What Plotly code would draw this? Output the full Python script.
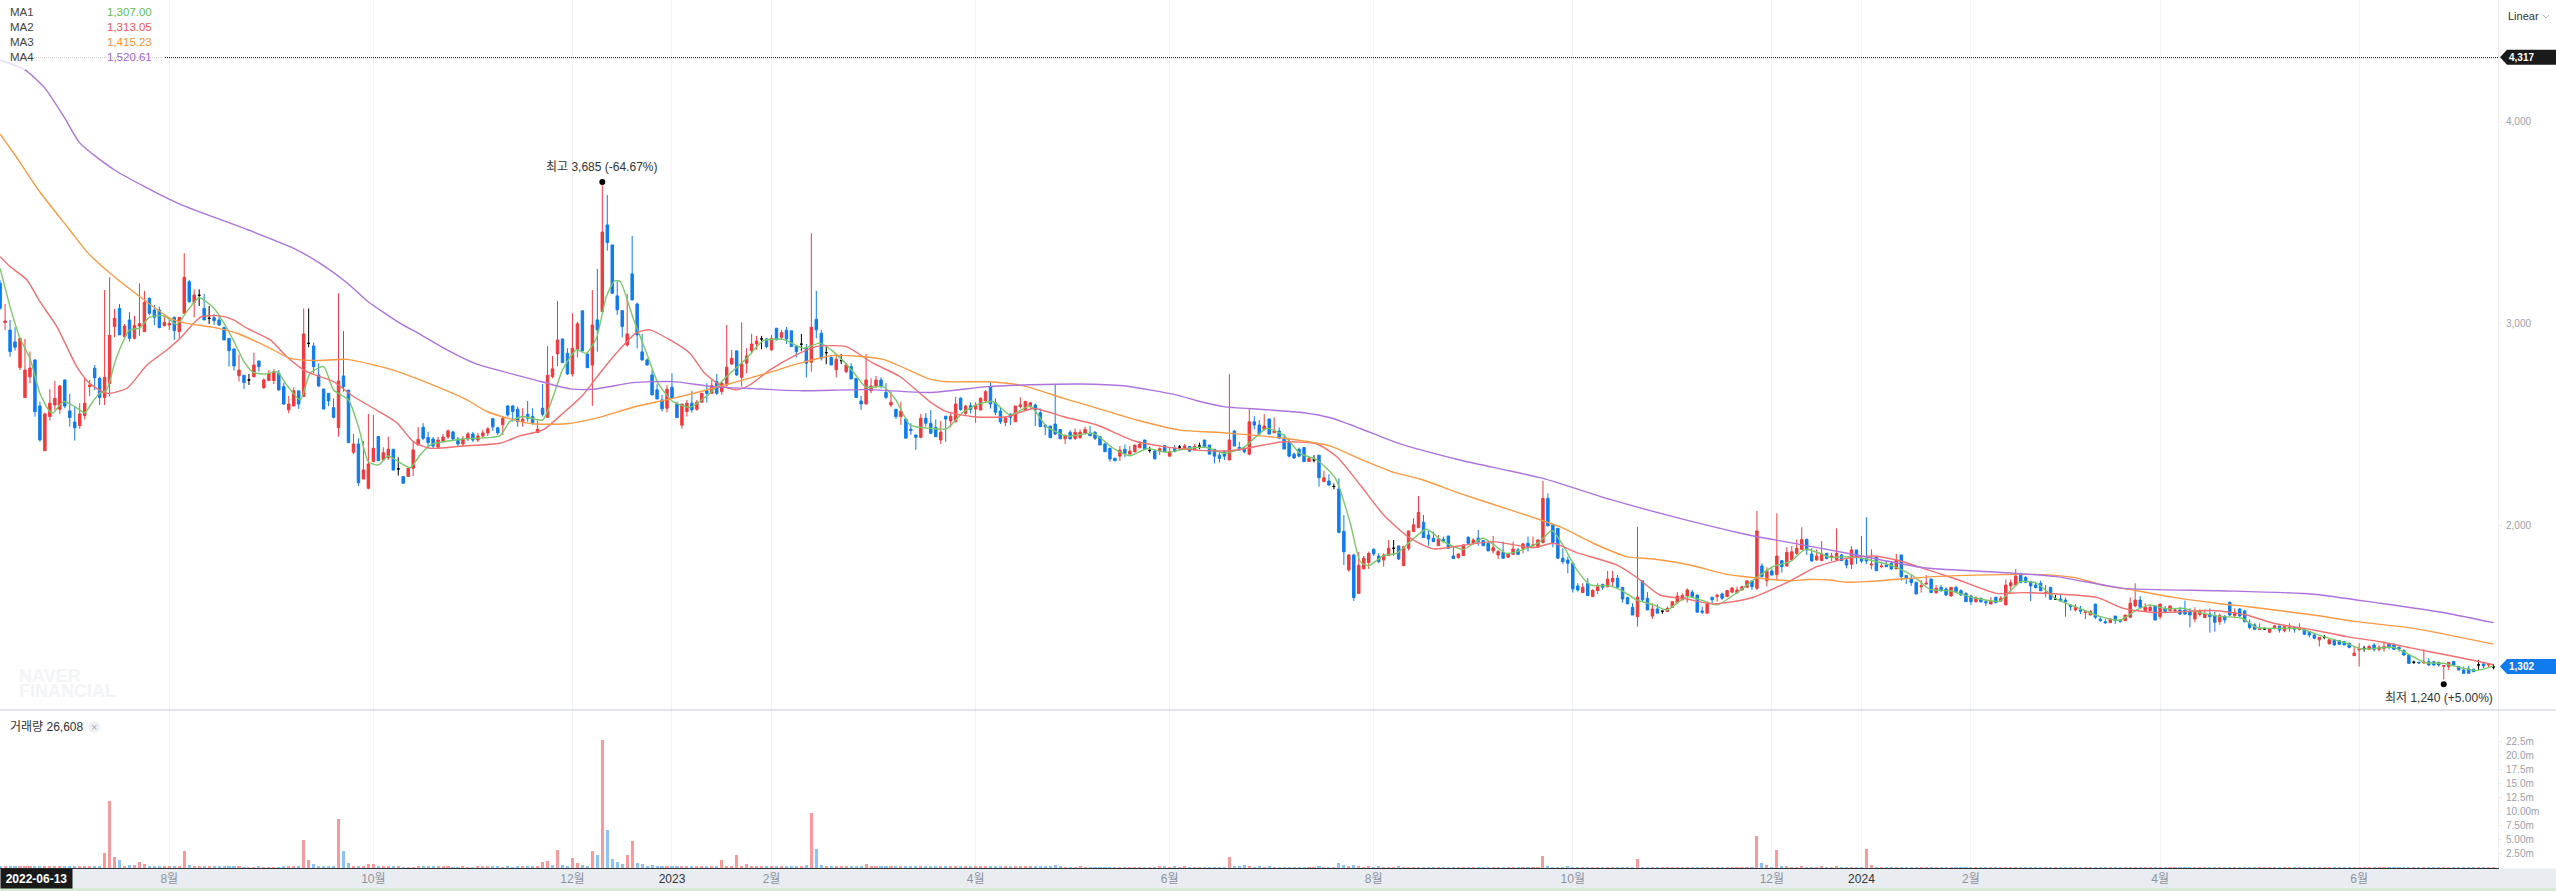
from plotly.subplots import make_subplots
import plotly.graph_objects as go

W, H = 2556, 891
FONT = "Liberation Sans, Noto Sans CJK KR, sans-serif"

# R up, B down, D unchanged
moves = (
    "BRBBRRRBBR" "RRRBBBRRRB" "BRRRBRBRRR" "BBBRRBRRBR" "DBDBBBBBRB" "DRBRRRBBRR" "BRDBBBBBRB" "BRBRRRBRRB"
    "DBRRRBBBRR" "RBBRRBRRRB" "BRBBBRBBRB" "RRRBBRRBBR" "BRBBBBRBBB" "BBBBRBBRRB" "RRBRBRRRBR" "RRRDBRBRBB"
    "BDBRBBDBRD" "RBBBRRRBBR" "BRBBBRBBBR" "BRRBRBRRRB" "BBRBRRRRBB" "BBBBRBRRRB" "BBBBBRBRRR" "BDBRBRBDRB"
    "RDBBBBBRBB" "BRBBRBRBBB" "BBBRDBRBDB" "BRBRRRBBRR" "DBRRRRBBBR" "BBBRRBRBBB" "RRBRRBRBRR" "RBBBBBBBRB"
    "RRBRRBBBBR" "BBRBDRRRRR" "BBBRBRBRRR" "RRBRBRBRBR" "RRRBBRRBRR" "BBRBBBRBRB" "BRBBBBRRBR" "BBRBBBBRBB"
    "RBRRRRBBBB" "BRBDBBBRBR" "RBBBRBBRRR" "BRRBRBRRBB" "BRRRBBRBBR" "BBBBRDRRBR" "RBRBBBRDRB" "BBBRRDRBRR"
    "BBBBBDBRBB" "BRRBBBBBDBRD"
)
body_top = [
    3200,3014,2969,2910,2928,2771,2781,2821,2593,2554, 2607,2631,2692,2722,2569,2514,2554,2607,2697,2780,
    2730,2735,2943,3027,3076,2989,3019,2992,3001,3106, 3126,3068,3068,3007,3002,3032,3032,3230,3208,3142,
    3141,3076,3027,3030,3019,2981,2928,2875,2771,2745, 2722,2796,2816,2722,2755,2763,2755,2689,2603,2668,
    2668,2950,2903,2890,2747,2677,2656,2585,2717,2742, 2672,2405,2405,2277,2306,2384,2442,2362,2379,2379,
    2282,2244,2285,2376,2428,2488,2438,2430,2425,2440, 2470,2465,2430,2430,2455,2455,2445,2460,2480,2530,
    2485,2533,2593,2593,2577,2528,2552,2541,2478,2582, 2745,2777,2920,2925,2854,2879,3000,3064,2851,2994,
    3019,3454,3489,3390,3138,3065,2950,3247,3098,2861, 2821,2747,2673,2623,2676,2686,2603,2603,2607,2607,
    2612,2656,2669,2694,2714,2706,2785,2829,2866,2801, 2841,2900,2915,2925,2925,2928,2978,2956,2968,2965,
    2890,2899,2879,2983,3022,2953,2857,2833,2824,2818, 2796,2788,2730,2618,2722,2692,2722,2722,2661,2612,
    2577,2567,2529,2478,2450,2533,2533,2507,2487,2464, 2543,2543,2603,2632,2593,2595,2598,2631,2664,2689,
    2609,2568,2535,2553,2593,2599,2616,2609,2598,2560, 2499,2494,2504,2477,2449,2463,2463,2463,2477,2458,
    2463,2441,2405,2383,2334,2375,2379,2370,2400,2405, 2425,2374,2370,2382,2397,2367,2383,2390,2395,2393,
    2393,2395,2425,2400,2379,2350,2367,2425,2469,2388, 2383,2515,2515,2499,2494,2529,2469,2469,2433,2413,
    2355,2379,2388,2334,2326,2350,2238,2222,2195,2182, 1973,1856,1856,1805,1840,1864,1884,1851,1856,1889,
    1889,1901,1897,1975,2005,2067,2018,1955,1939,1934, 1934,1950,1851,1861,1906,1944,1930,1939,1927,1914,
    1892,1873,1868,1861,1886,1881,1911,1914,1906,1930, 2136,2136,2005,1988,1840,1831,1815,1703,1696,1716,
    1681,1699,1711,1736,1741,1741,1696,1645,1597,1647, 1728,1642,1589,1589,1578,1592,1625,1653,1655,1683,
    1672,1658,1579,1614,1647,1657,1663,1680,1693,1683, 1699,1728,1728,1975,1802,1777,1777,1851,1828,1869,
    1872,1889,1933,1933,1861,1851,1861,1864,1851,1864, 1856,1831,1881,1881,1839,1838,1811,1848,1801,1806,
    1815,1831,1856,1755,1740,1721,1704,1716,1737,1691, 1696,1688,1696,1696,1679,1666,1653,1645,1642,1625,
    1628,1647,1642,1707,1719,1752,1765,1745,1724,1707, 1716,1670,1696,1637,1638,1633,1609,1597,1584,1576,
    1576,1613,1538,1526,1538,1554,1531,1559,1617,1633, 1633,1597,1597,1604,1613,1590,1604,1584,1584,1584,
    1576,1571,1576,1564,1564,1554,1556,1551,1622,1572, 1589,1579,1518,1510,1490,1490,1490,1505,1505,1502,
    1497,1497,1490,1488,1477,1460,1449,1449,1436,1436, 1432,1427,1419,1370,1389,1394,1403,1411,1399,1403,
    1416,1411,1399,1383,1361,1325,1325,1327,1328,1328, 1325,1309,1325,1328,1304,1287,1292,1290,1312,1317,1317,1302,
]
body_bot = [
    3077,3006,2862,2884,2783,2635,2738,2565,2425,2372, 2541,2598,2577,2593,2536,2486,2496,2546,2689,2733,
    2635,2635,2705,2986,2945,2936,2928,2928,2989,2961, 3052,3032,2981,2991,2994,2966,2961,3052,3109,3105,
    3141,3019,3027,3015,2994,2920,2867,2791,2743,2709, 2722,2738,2788,2684,2719,2719,2672,2603,2574,2593,
    2603,2640,2903,2788,2692,2578,2618,2537,2486,2689, 2412,2364,2214,2232,2186,2318,2323,2326,2338,2277,
    2282,2211,2244,2285,2400,2433,2412,2395,2390,2420, 2440,2430,2405,2405,2430,2425,2425,2445,2460,2490,
    2460,2500,2549,2566,2516,2516,2533,2511,2462,2552, 2537,2739,2851,2808,2752,2752,2874,2866,2783,2796,
    2970,3060,3402,3151,3069,2986,2895,3118,2945,2821, 2796,2648,2628,2579,2582,2631,2536,2498,2566,2574,
    2577,2612,2656,2656,2656,2664,2697,2801,2747,2735, 2805,2866,2900,2925,2887,2871,2920,2933,2925,2887,
    2862,2899,2805,2810,2970,2829,2857,2796,2772,2818, 2763,2727,2635,2603,2603,2669,2692,2689,2636,2598,
    2541,2541,2434,2472,2438,2438,2508,2458,2441,2425, 2529,2519,2515,2576,2557,2576,2578,2573,2619,2603,
    2562,2515,2512,2537,2515,2590,2573,2593,2573,2491, 2491,2436,2454,2431,2431,2430,2433,2438,2458,2446,
    2433,2400,2367,2331,2322,2345,2359,2355,2367,2387, 2379,2374,2331,2370,2367,2345,2367,2390,2383,2370,
    2375,2395,2392,2355,2345,2334,2345,2326,2395,2375, 2367,2355,2499,2454,2477,2454,2461,2433,2380,2345,
    2336,2345,2318,2318,2326,2238,2219,2202,2195,1968, 1872,1782,1645,1666,1787,1818,1861,1823,1831,1853,
    1889,1836,1803,1889,1972,1991,1942,1935,1922,1902, 1922,1889,1838,1843,1853,1914,1914,1922,1902,1876,
    1876,1856,1840,1845,1859,1859,1889,1897,1901,1894, 1917,2001,1917,1840,1823,1815,1688,1683,1670,1655,
    1650,1680,1696,1699,1724,1696,1638,1614,1559,1551, 1634,1584,1554,1568,1578,1576,1597,1620,1634,1653,
    1650,1573,1573,1568,1634,1650,1642,1650,1672,1670, 1683,1696,1699,1691,1749,1729,1757,1760,1798,1802,
    1831,1864,1884,1881,1826,1831,1828,1839,1844,1834, 1828,1806,1810,1843,1826,1826,1806,1778,1798,1798,
    1787,1787,1749,1740,1719,1663,1699,1712,1670,1670, 1679,1658,1653,1674,1658,1625,1625,1625,1625,1620,
    1613,1620,1628,1609,1703,1707,1721,1721,1703,1694, 1679,1666,1637,1637,1628,1625,1600,1584,1579,1571,
    1559,1548,1531,1521,1521,1531,1528,1531,1548,1604, 1597,1581,1581,1534,1551,1576,1581,1581,1564,1564,
    1559,1539,1562,1546,1551,1523,1526,1535,1559,1556, 1554,1526,1497,1488,1488,1490,1474,1493,1485,1482,
    1493,1488,1488,1464,1460,1444,1436,1449,1416,1411, 1414,1411,1399,1358,1386,1394,1389,1389,1389,1394,
    1399,1389,1391,1361,1320,1325,1322,1322,1312,1312, 1312,1305,1304,1312,1287,1271,1271,1279,1312,1307,1312,1302,
]
high = [
    3215,3098,3019,2982,2928,2925,2862,2824,2615,2560, 2677,2717,2697,2725,2653,2590,2607,2730,2722,2796,
    2738,3167,3230,3073,3098,2999,3057,3039,3200,3162, 3129,3093,3085,3039,3027,3035,3032,3349,3217,3170,
    3170,3147,3088,3048,3035,2986,2928,2879,2846,2745, 2752,2857,2816,2730,2771,2775,2771,2709,2643,2686,
    2668,3076,3076,2907,2804,2677,2656,2631,3151,2964, 2672,2455,2433,2420,2554,2549,2445,2389,2442,2379,
    2339,2244,2285,2417,2488,2508,2466,2440,2440,2455, 2478,2470,2440,2445,2465,2465,2460,2475,2489,2535,
    2490,2541,2598,2598,2590,2582,2618,2582,2521,2702, 2890,2841,3113,2925,2879,3052,3009,3064,2851,3167,
    3271,3685,3637,3390,3209,3068,3148,3435,3105,2950, 2829,2772,2701,2648,2697,2755,2615,2603,2623,2668,
    2623,2656,2706,2722,2752,2714,2994,2871,2866,3007, 2879,2950,2940,2940,2928,2945,2978,2970,2984,2965,
    2890,2950,2900,3448,3163,2970,2887,2838,2851,2851, 2805,2805,2730,2643,2851,2730,2742,2735,2706,2664,
    2577,2615,2529,2508,2450,2554,2558,2573,2527,2519, 2543,2560,2639,2636,2598,2611,2611,2636,2672,2713,
    2631,2585,2540,2557,2593,2636,2616,2614,2606,2581, 2504,2494,2697,2477,2449,2474,2482,2477,2491,2494,
    2469,2446,2412,2388,2339,2395,2403,2395,2400,2420, 2425,2392,2375,2388,2400,2388,2400,2400,2405,2393,
    2405,2412,2425,2400,2379,2367,2375,2751,2474,2416, 2392,2581,2543,2524,2553,2529,2537,2487,2453,2433,
    2362,2388,2388,2345,2350,2350,2273,2255,2210,2235, 2054,1861,1861,1871,1851,1873,1889,1864,1864,1930,
    1930,1901,1901,1975,2038,2148,2054,1975,1972,1955, 1947,1950,1894,1864,1906,1947,1939,1980,1930,1917,
    1950,1881,1922,1861,1922,1892,1914,1947,1947,1935, 2222,2161,2005,1988,1889,1848,1818,1716,1716,1741,
    1686,1716,1713,1777,1777,1757,1696,1650,1617,1996, 1728,1672,1617,1612,1578,1601,1625,1672,1666,1691,
    1683,1658,1601,1625,1647,1663,1670,1683,1696,1699, 1703,1728,1732,2074,1815,1795,1790,2062,1828,1894,
    1900,1933,1993,1938,1889,1884,1925,1867,1867,1988, 1861,1839,1900,1881,1950,2042,1884,1851,1823,1828,
    1823,1861,1856,1755,1757,1721,1732,1757,1737,1707, 1707,1696,1696,1703,1686,1671,1658,1650,1645,1633,
    1647,1650,1653,1735,1735,1787,1768,1752,1729,1724, 1729,1707,1696,1658,1658,1645,1613,1613,1604,1579,
    1584,1613,1548,1538,1543,1554,1538,1559,1646,1716, 1653,1617,1613,1604,1613,1604,1604,1592,1600,1630,
    1592,1597,1587,1587,1592,1576,1567,1559,1625,1592, 1592,1584,1538,1518,1518,1498,1493,1510,1505,1505,
    1518,1498,1518,1493,1480,1464,1449,1460,1439,1439, 1436,1431,1422,1403,1419,1406,1411,1419,1411,1427,
    1419,1419,1403,1389,1361,1333,1328,1389,1345,1333, 1328,1309,1325,1333,1307,1304,1307,1295,1337,1320,1317,1317,
]
low = [
    3070,2969,2837,2867,2771,2635,2705,2540,2417,2372, 2521,2574,2554,2582,2491,2422,2480,2527,2643,2672,
    2598,2598,2640,2933,2945,2933,2912,2923,2940,2961, 3043,2994,2978,2986,2969,2920,2928,3052,3105,3032,
    3088,3019,2999,2994,2989,2920,2788,2768,2714,2677, 2697,2735,2763,2676,2717,2702,2672,2598,2557,2593,
    2579,2640,2884,2755,2689,2578,2593,2532,2442,2664, 2412,2356,2198,2232,2181,2318,2323,2326,2326,2273,
    2249,2207,2244,2247,2400,2425,2384,2385,2380,2410, 2430,2420,2395,2395,2420,2415,2415,2435,2445,2470,
    2450,2450,2541,2516,2491,2491,2516,2500,2462,2541, 2537,2730,2791,2805,2747,2739,2834,2862,2783,2594,
    2862,3060,3362,3148,3044,2933,2887,3118,2879,2818, 2792,2648,2628,2566,2561,2631,2533,2481,2541,2561,
    2570,2612,2610,2656,2648,2648,2689,2796,2742,2689, 2755,2851,2871,2874,2879,2866,2920,2920,2900,2887,
    2834,2866,2734,2763,2928,2818,2800,2796,2734,2801, 2755,2727,2635,2574,2603,2656,2681,2681,2628,2587,
    2529,2500,2434,2450,2376,2434,2491,2458,2441,2405, 2416,2487,2515,2570,2548,2557,2510,2573,2614,2581,
    2548,2504,2494,2499,2515,2581,2573,2581,2494,2491, 2449,2436,2449,2431,2405,2430,2425,2430,2454,2446,
    2425,2400,2367,2318,2322,2322,2339,2355,2362,2383, 2375,2362,2331,2350,2367,2345,2367,2375,2379,2365,
    2375,2380,2392,2355,2309,2313,2326,2326,2395,2375, 2359,2350,2477,2454,2474,2454,2461,2433,2380,2339,
    2331,2339,2318,2318,2314,2194,2219,2197,2181,1963, 1806,1773,1628,1666,1787,1787,1851,1815,1798,1853,
    1853,1831,1803,1878,1972,1991,1942,1902,1922,1901, 1919,1886,1838,1838,1853,1906,1909,1902,1902,1876,
    1864,1836,1836,1840,1856,1856,1864,1873,1901,1894, 1914,1996,1894,1836,1812,1765,1670,1675,1670,1655,
    1650,1663,1683,1696,1699,1696,1620,1614,1559,1502, 1625,1584,1540,1568,1565,1576,1597,1620,1634,1620,
    1650,1573,1564,1568,1617,1625,1634,1647,1666,1663, 1683,1696,1683,1683,1746,1700,1754,1732,1769,1798,
    1831,1856,1884,1856,1823,1828,1828,1834,1826,1826, 1826,1790,1787,1811,1815,1811,1785,1778,1790,1798,
    1782,1787,1729,1712,1703,1663,1670,1712,1670,1663, 1674,1653,1650,1670,1653,1625,1609,1620,1620,1604,
    1613,1620,1625,1609,1663,1703,1716,1716,1628,1691, 1679,1646,1633,1633,1628,1551,1581,1576,1564,1539,
    1559,1539,1526,1515,1521,1515,1521,1531,1543,1597, 1597,1581,1576,1534,1538,1567,1576,1567,1559,1559,
    1498,1523,1551,1546,1472,1477,1510,1518,1554,1543, 1551,1523,1488,1485,1485,1485,1469,1488,1472,1474,
    1477,1472,1482,1460,1449,1439,1403,1439,1414,1406, 1411,1411,1394,1358,1304,1378,1386,1378,1378,1378,
    1389,1389,1378,1358,1317,1317,1317,1317,1307,1307, 1304,1240,1287,1307,1287,1267,1271,1276,1287,1295,1300,1290,
]
# volume in millions
volume = [
    .2,.2,.2,.2,.2,.42,.2,.2,.2,.2, .2,.2,.2,.2,.2,.2,.2,.2,.2,.2,
    .2,2.68,11.96,1.96,1.43,.42,.54,.54,1.07,.71, .42,.2,.2,.2,.2,.2,.42,3.04,.54,.36,
    .2,.2,.2,.2,.2,.2,.2,.2,.2,.15, .15,.15,.2,.15,.15,.1,.1,.2,.2,.2,
    .2,5.0,1.43,.65,.42,.42,.2,.2,8.75,3.04, .89,.2,.36,.2,.71,.71,.2,.2,.2,.2,
    .2,.15,.15,.1,.2,.2,.2,.2,.2,.2, .2,.15,.15,.2,.15,.15,.2,.2,.2,.2,
    .2,.15,.2,.15,.3,.2,.2,.2,.2,1.07, 1.25,.6,3.2,.54,.42,1.79,.89,.54,.25,3.04,
    2.32,22.9,6.79,1.6,1.07,.77,2.32,4.82,.89,.77, .42,.54,.42,.42,.2,.2,.42,.2,.2,.2,
    .2,.2,.2,.2,.2,1.43,.42,.2,2.32,.25, .71,.42,.42,.2,.2,.42,.2,.2,.2,.42,
    .42,.42,.6,9.82,3.39,.6,.42,.42,.2,.2, .2,.2,.42,.2,.71,.2,.2,.2,.2,.2,
    .2,.2,.2,.2,.2,.2,.2,.2,.2,.2, .2,.2,.2,.2,.2,.2,.2,.2,.2,.2,
    .2,.2,.42,.2,.2,.2,.2,.2,.42,.2, .2,.2,.6,.2,.15,.15,.15,.2,.15,.15,
    .1,.15,.1,.15,.15,.15,.1,.1,.15,.15, .1,.15,.15,.2,.2,.1,.2,.1,.2,.1,
    .15,.1,.1,.1,.15,.1,.1,1.96,.2,.2, .54,.2,.15,.2,.1,.2,.1,.15,.1,.1,
    .1,.1,.1,.1,.1,.42,.15,.15,.15,.89, .54,.42,.6,.42,.15,.2,.15,.2,.15,.1,
    .15,.2,.15,.1,.15,.1,.1,.1,.1,.1, .1,.1,.15,.1,.1,.1,.1,.1,.1,.1,
    .1,.1,.1,.15,.1,.1,.1,.1,.15,.1, 2.14,.42,.15,.15,.15,.2,.15,.1,.1,.1,
    .1,.1,.1,.1,.1,.1,.1,.1,.1,1.6, .15,.1,.1,.1,.1,.1,.1,.1,.1,.1,
    .1,.1,.1,.15,.1,.1,.15,.1,.1,.1, .1,.1,.1,5.7,.89,.6,.15,3.2,.42,.42,
    .15,.15,.42,.15,.15,.15,.42,.15,.15,.42, .15,.15,.15,.1,.15,3.39,.6,.15,.15,.1,
    .1,.15,.1,.1,.1,.1,.1,.1,.1,.1, .1,.1,.1,.1,.1,.1,.1,.1,.1,.1,
    .1,.1,.1,.15,.1,.1,.1,.1,.1,.1, .1,.1,.1,.1,.1,.1,.1,.1,.1,.1,
    .1,.1,.1,.1,.1,.1,.1,.1,.15,.1, .1,.1,.1,.1,.1,.1,.1,.1,.1,.1,
    .1,.1,.1,.1,.1,.1,.1,.1,.1,.1, .1,.1,.1,.1,.1,.1,.1,.1,.1,.1,
    .1,.1,.1,.1,.1,.1,.1,.1,.1,.1, .1,.1,.1,.1,.1,.1,.1,.1,.1,.1,
    .1,.1,.1,.1,.1,.1,.1,.1,.1,.1, .1,.1,.1,.1,.1,.1,.1,.1,.1,.1,.1,.03,
]
# bars whose colour differs from their candle
vol_red = [109, 127, 148, 375]
vol_blue = [111]

ma1_x = [0,2,4,6,8,10,10.7,12.7,15,17,18.4,20,21.4,23,24.4,26,28,30,33,35.5,37.5,40,43,45,47,49,51,53.6,55.6,57.6,60.3,62.3,65,67,70,72,74,76,78,80,82.4,84.4,86.4,
         93,100.4,102.4,105,109,111,113,115.8,117.8,119.8,121.8,123.5,124.6,127.2,129.9,132.2,135.2,138.6,142.6,146,150,153.3,157.3,161.4,164.7,167.4,171.4,174,177.4,180,182.8,186.8,
         190.2,193.6,197,199.6,203,207,210.3,214.4,219.7,223.7,227,230.4,234.5,238.5,242.5,245.8,249.9,254.5,257.9,261.2,264.6,268.3,271.3,273.3,
         275,278,280.6,283.3,286.6,290,294,298,302.7,306.7,309.4,311.8,314,316.8,319.5,323.5,326.2,328.8,332.2,334.9,338.9,341.6,345,349,352.3,356.3,359.7,
         362.7,365.7,367.7,371.7,375.7,381,384.4,387.8,391.8,396.5,401.8,405.9,409.2,413.2,417.3,422,426,429.3,432,435.3,438.7,442.7,446,
         450.4,453.4,457.4,462,466.8,471.5,474.5,480.9,483.5,487.2,490.9,494.9,497.6,501]
ma1_y = [3274,3085,2928,2829,2656,2565,2560,2615,2590,2560,2607,2656,2672,2804,2895,2969,2978,3032,3039,2997,3060,3129,3076,3002,2912,2813,2758,2752,2763,2697,2623,2755,2788,2672,2623,2491,2318,2301,2346,2318,2288,2351,2400,
         2430,2445,2516,2541,2524,2631,2772,2871,2854,2928,3134,3212,3209,3027,2854,2706,2615,2587,2656,2739,2829,2915,2923,2879,2904,2862,2763,2686,2689,2623,2500,2483,
         2481,2565,2606,2614,2548,2593,2491,2444,2458,2383,2347,2382,2364,2383,2388,2359,2388,2482,2449,2359,2326,2235,2012,1823,
         1803,1853,1864,1922,1983,1922,1884,1939,1864,1889,1922,1977,1906,1782,1708,1703,1675,1634,1609,1584,1650,1634,1609,1670,1733,1799,1823,
         1884,1864,1844,1848,1831,1795,1752,1686,1679,1645,1628,1724,1716,1638,1597,1551,1534,1584,1609,1589,1592,1567,1552,
         1543,1497,1493,1492,1452,1419,1391,1399,1370,1324,1320,1295,1284,1307]

ma2_x = [0,2,5.4,8,11.4,15.4,18,21.4,25.5,29.5,33.5,36.2,40.2,44.2,46.9,49.6,54.3,57.6,61.6,67,71,75,79.7,83,86.4,93,
         100.4,104.4,109.1,113.1,117.1,120.5,123.8,127.9,130.5,134.6,138.6,141.3,144.6,148,150.6,154.7,159.3,164,170,175.4,180.8,186.8,
         190.2,195.6,202.3,207.7,213.7,220.4,227.8,233.8,240.5,247.2,253.9,257.9,264.6,268.6,273.3,
         278,283.3,288,293.3,300,308,312.1,316.8,324.8,328.8,333.5,338.9,344.2,351.6,359.7,
         365,371,376.4,381.8,386.4,393.1,401.2,406.5,413.2,421.3,426.6,433.3,444.7,451.4,456.8,464.8,471.5,478.2,484.9,491.6,498.3,501]
ma2_y = [3332,3283,3217,3109,2986,2788,2705,2656,2681,2796,2870,2928,3032,3039,3019,2978,2920,2837,2763,2714,2640,2582,2511,2417,2384,2395,
         2409,2445,2475,2557,2648,2755,2854,2956,2970,2920,2854,2763,2697,2673,2697,2772,2838,2887,2887,2805,2739,2615,
         2565,2540,2540,2581,2540,2499,2421,2392,2375,2372,2400,2416,2405,2342,2202,
         2054,1939,1886,1902,1922,1892,1914,1868,1807,1746,1658,1638,1614,1642,1728,
         1798,1839,1851,1826,1790,1736,1666,1670,1663,1646,1592,1571,1581,1559,1518,1485,1452,1427,1394,1361,1328,1313]

ma3_x = [0,3,8,14,17.4,22.1,28.1,34.2,37.5,42.9,47.6,53.6,58.3,63.6,69.7,79,84.4,93.8,97.8,103.8,107,113.8,119.8,127.2,135.2,143.3,154,160.7,167.4,177.4,186.8,
         190.2,198.3,205.7,213.7,221.7,228.4,237.1,244.5,253.9,260.6,267.3,273.3,280,285.3,293.3,303.4,313.4,320.1,326.8,332.2,340.2,346.9,352.3,359.7,
         363,367.7,371,375,383,393.1,402.5,410.6,416.6,423.3,429.3,436.7,446,451.4,464.8,473.5,484.9,501]
ma3_y = [3938,3835,3652,3464,3357,3250,3134,3027,3002,2982,2953,2887,2829,2818,2824,2771,2722,2623,2566,2521,2505,2505,2533,2587,2631,2681,2755,2805,2843,2824,2726,
         2713,2713,2693,2631,2573,2524,2474,2463,2444,2425,2395,2331,2265,2232,2161,2079,1996,1914,1848,1836,1803,1760,1744,1728,
         1735,1732,1721,1724,1740,1754,1759,1759,1745,1703,1679,1646,1615,1601,1559,1526,1493,1415]

ma4_x = [0,5,9,13,16,23,36,49.9,59,64.3,69.7,73.7,80.4,84.4,89.8,95.8,100.4,107,114.5,119.2,127.2,135.2,143.3,151.3,160.7,174,186.8,
         198.3,207,217,225.7,236.5,240.5,245.8,253.9,261.9,267.3,273.3,280.6,293.3,310,323.5,336.9,352.3,359.7,
         373,386.4,399.8,413.2,426.6,446,464.8,478.2,491.6,501]
ma4_y = [4305,4256,4166,4017,3895,3761,3593,3464,3373,3299,3203,3114,3002,2948,2871,2800,2768,2725,2678,2676,2709,2714,2689,2679,2669,2674,2660,
         2689,2698,2702,2693,2647,2619,2590,2576,2560,2535,2482,2412,2326,2235,2131,2041,1950,1917,
         1856,1793,1773,1749,1691,1679,1662,1617,1568,1521]

ma_labels = ["MA1", "MA2", "MA3", "MA4"]
ma_values = ["1,307.00", "1,313.05", "1,415.23", "1,520.61"]
ma_line_colors = ["#79c96a", "#f06f70", "#fb9a45", "#ac73dc"]
ma_text_colors = ["#62bd4f", "#f25454", "#f8912f", "#9e63d4"]

tick_pos = [34, 75, 115, 135, 155, 196, 235, 276, 316, 356, 374, 396, 434, 474]
tick_text = ["8월", "10월", "12월", "<span style='color:#333'>2023</span>", "2월", "4월", "6월", "8월", "10월", "12월",
             "<span style='color:#333'>2024</span>", "2월", "4월", "6월"]
price_ticks = [2000, 3000, 4000]
vol_ticks = [2.5, 5, 7.5, 10, 12.5, 15, 17.5, 20, 22.5]
vol_text = ["2.50m", "5.00m", "7.50m", "10.00m", "12.5m", "15.0m", "17.5m", "20.0m", "22.5m"]

assert len(moves) == len(body_top) == len(body_bot) == len(high) == len(low) == len(volume)

RED, BLUE = "#f03a3c", "#0f7bec"
n = len(moves)
opens = [body_bot[i] if moves[i] == "R" else body_top[i] for i in range(n)]
closes = [body_top[i] if moves[i] != "B" else body_bot[i] for i in range(n)]


def px(x):
    return x / W


def py(y):
    return 1 - y / H


fig = make_subplots(rows=2, cols=1, shared_xaxes=True)

for kind, color in (("R", RED), ("B", BLUE), ("D", "#000000")):
    idx = [i for i in range(n) if moves[i] == kind]
    fig.add_trace(go.Candlestick(
        x=idx,
        open=[opens[i] for i in idx], high=[high[i] for i in idx],
        low=[low[i] for i in idx], close=[closes[i] for i in idx],
        increasing=dict(line=dict(color=color, width=1), fillcolor=color),
        decreasing=dict(line=dict(color=color, width=1), fillcolor=color),
        whiskerwidth=0, hoverinfo="skip",
    ), row=1, col=1)

ma_xs = [ma1_x, ma2_x, ma3_x, ma4_x]
ma_ys = [ma1_y, ma2_y, ma3_y, ma4_y]
for mx, my, color, name in zip(ma_xs, ma_ys, ma_line_colors, ma_labels):
    fig.add_trace(go.Scatter(x=mx, y=my, mode="lines", name=name,
                             line=dict(color=color, width=1.4, shape="spline", smoothing=0.6)),
                  row=1, col=1)

# high and low dots
fig.add_trace(go.Scatter(x=[121, 491], y=[3702, 1216], mode="markers",
                         marker=dict(color="#000000", size=6)), row=1, col=1)

vol_colors = []
for i in range(n):
    red = moves[i] != "B"
    if i in vol_red:
        red = True
    if i in vol_blue:
        red = False
    vol_colors.append("#f69a9c" if red else "#8cc2f6")
fig.add_trace(go.Bar(x=list(range(n)), y=volume, width=0.62,
                     marker=dict(color=vol_colors, line=dict(width=0))), row=2, col=1)

axis_right = 2498
fig.update_xaxes(range=[-0.02, 501.9], domain=[0, px(axis_right)], rangeslider_visible=False,
                 tickmode="array", tickvals=tick_pos, ticktext=tick_text,
                 showgrid=True, gridcolor="#f1f3f6", gridwidth=1, zeroline=False, ticks="")
fig.update_xaxes(showticklabels=False, row=1, col=1)
fig.update_xaxes(showticklabels=True, showline=True, linecolor="#2f3237", linewidth=1,
                 tickfont=dict(family=FONT, size=12, color="#8d939e"), row=2, col=1)

fig.update_yaxes(side="right", showgrid=False, zeroline=False, ticks="outside", ticklen=3,
                 tickcolor="#eef0f3", ticklabelstandoff=2, showline=True, linecolor="#eef0f3", linewidth=1,
                 tickfont=dict(family=FONT, size=10, color="#9aa0ab"))
fig.update_yaxes(range=[1089, 4602], domain=[py(710), 1], tickmode="array", tickvals=price_ticks,
                 ticktext=["2,000", "3,000", "4,000"], row=1, col=1)
fig.update_yaxes(range=[0, 28.2], domain=[py(868), py(710)], tickmode="array", tickvals=vol_ticks,
                 ticktext=vol_text, row=2, col=1)

# price lines, pane frame, bottom strip
fig.add_shape(type="rect", xref="paper", yref="paper", x0=0, x1=1, y0=py(888), y1=py(868.5),
              fillcolor="#e9ecf1", line_width=0, layer="below")
fig.add_shape(type="rect", xref="paper", yref="paper", x0=0, x1=1, y0=0, y1=py(888),
              fillcolor="#d6e8d6", line_width=0, layer="below")
fig.add_shape(type="line", xref="paper", yref="paper", x0=0, x1=1, y0=py(710), y1=py(710),
              line=dict(color="#c6cbd4", width=1))
fig.add_shape(type="line", xref="paper", yref="y", x0=px(165), x1=px(axis_right), y0=4317, y1=4317,
              line=dict(color="#111111", width=1, dash="1px,1px"))
fig.add_shape(type="line", xref="paper", yref="y", x0=0, x1=px(165), y0=4317, y1=4317,
              line=dict(color="#cccccc", width=1, dash="1px,1px"))
# legend veil over the MA4 line
fig.add_shape(type="rect", xref="paper", yref="paper", x0=0, x1=px(25), y0=py(70), y1=1,
              fillcolor="rgba(255,255,255,0.75)", line_width=0)


def tag(y_mid, color, text):
    top, bot = py(y_mid - 7.5), py(y_mid + 7.5)
    path = (f"M {px(2500)} {py(y_mid)} L {px(2507)} {top} L 1 {top} L 1 {bot} L {px(2507)} {bot} Z")
    fig.add_shape(type="path", xref="paper", yref="paper", path=path, fillcolor=color, line_width=0)
    fig.add_annotation(xref="paper", yref="paper", x=px(2507), y=py(y_mid), xanchor="left", yanchor="middle",
                       text=f"<b>{text}</b>", showarrow=False, font=dict(family=FONT, size=10, color="#ffffff"))


tag(57.3, "#1a1a1a", "4,317")
tag(666.5, "#0f7bec", "1,302")


def label(x, y, text, size=12, color="#333333", anchor="left"):
    fig.add_annotation(xref="paper", yref="paper", x=px(x), y=py(y), xanchor=anchor, yanchor="middle",
                       text=text, showarrow=False, font=dict(family=FONT, size=size, color=color))


for k, (name, value, color) in enumerate(zip(ma_labels, ma_values, ma_text_colors)):
    label(8, 12 + 15 * k, name, size=11.5, color="#444444")
    label(154, 12 + 15 * k, value, size=11.5, color=color, anchor="right")

label(2506, 16, "Linear", size=11, color="#333333")
chev = f"M {px(2543)} {py(15)} L {px(2546)} {py(18)} L {px(2549)} {py(15)}"
fig.add_shape(type="path", xref="paper", yref="paper", path=chev, line=dict(color="#b5b9c0", width=1))

label(601, 167, "최고 3,685 (-64.67%)", size=12, color="#333333", anchor="center")
label(2439, 697.7, "최저 1,240 (+5.00%)", size=12, color="#333333", anchor="center")

label(8, 726.7, "거래량 26,608", size=12, color="#333333")
fig.add_shape(type="circle", xref="paper", yref="paper", x0=px(88), x1=px(100), y0=py(733), y1=py(721),
              fillcolor="#f0f1f3", line_width=0)
label(94, 726.5, "×", size=11, color="#a7abb2", anchor="center")

label(17, 676, "<b>NAVER</b>", size=18, color="#f2f4f7")
label(17, 690.5, "<b>FINANCIAL</b>", size=18, color="#f2f4f7")

fig.add_annotation(xref="paper", yref="paper", x=0, y=py(878.5), xanchor="left", yanchor="middle",
                   text="<b>2022-06-13</b>", showarrow=False, width=71, height=19, align="center",
                   bgcolor="#1a1a1a", borderpad=0, font=dict(family=FONT, size=12, color="#ffffff"))

fig.update_layout(width=W, height=H, margin=dict(l=0, r=0, t=0, b=0), showlegend=False,
                  plot_bgcolor="#ffffff", paper_bgcolor="#ffffff", bargap=0,
                  dragmode=False, hovermode=False)

fig.write_html("out.html", config={"displayModeBar": False},
               post_script="document.body.style.margin='0';document.body.style.overflow='hidden';")
